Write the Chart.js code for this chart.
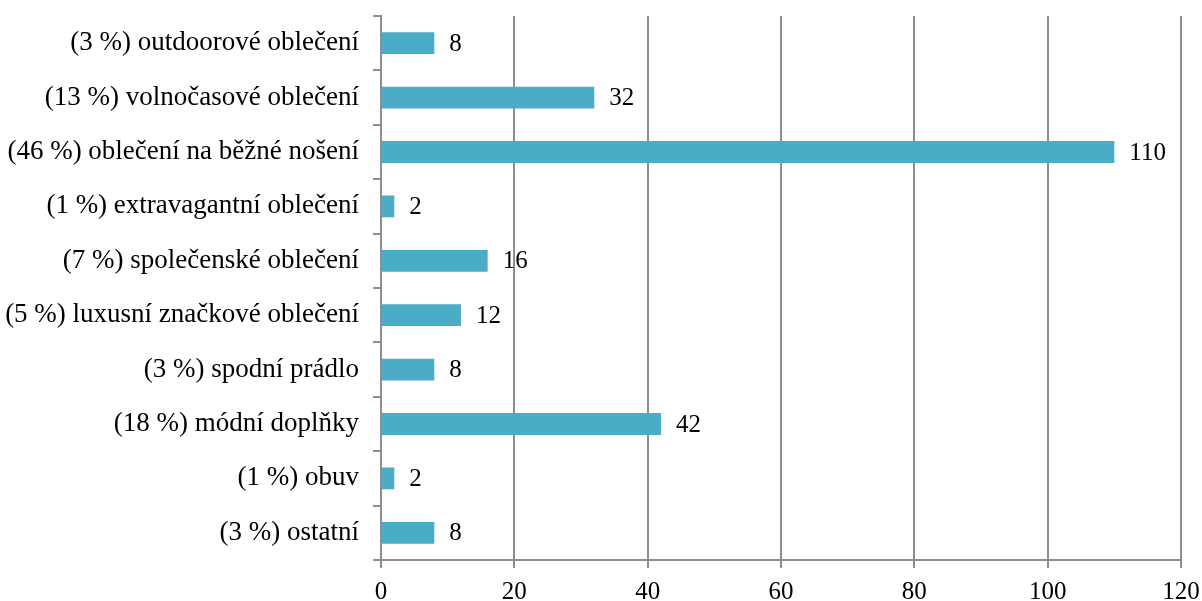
<!DOCTYPE html>
<html>
<head>
<meta charset="utf-8">
<script src="https://cdn.jsdelivr.net/npm/chart.js@4/dist/chart.umd.min.js"></script>
<style>
  html, body { margin: 0; padding: 0; background: #fff; }
  #wrap { width: 1202px; height: 601px; position: relative; }
</style>
</head>
<body>
<div id="wrap"><canvas id="clothes-chart"></canvas></div>
<script>
const categories = [
  "outdoorové oblečení",
  "volnočasové oblečení",
  "oblečení na běžné nošení",
  "extravagantní oblečení",
  "společenské oblečení",
  "luxusní značkové oblečení",
  "spodní prádlo",
  "módní doplňky",
  "obuv",
  "ostatní",
];
const shares = [3, 13, 46, 1, 7, 5, 3, 18, 1, 3];
const counts = [8, 32, 110, 2, 16, 12, 8, 42, 2, 8];
const xTicks = [0, 20, 40, 60, 80, 100, 120];

const FONT = "'Liberation Serif', 'Times New Roman', serif";
const AXIS_GRAY = "#8e8e8e";

// value text to the right of each bar
const barValueLabels = {
  id: "barValueLabels",
  afterDatasetsDraw(chart) {
    const ctx = chart.ctx;
    const meta = chart.getDatasetMeta(0);
    ctx.save();
    ctx.font = `25px ${FONT}`;
    ctx.fillStyle = "#000";
    ctx.textAlign = "left";
    ctx.textBaseline = "middle";
    meta.data.forEach((bar, i) => {
      ctx.fillText(String(counts[i]), bar.x + 15, bar.y + 1);
    });
    ctx.restore();
  },
};

new Chart(document.getElementById("clothes-chart"), {
  type: "bar",
  data: {
    labels: categories.map((name, i) => `(${shares[i]} %) ${name}`),
    datasets: [
      {
        data: counts,
        backgroundColor: "#4bacc6",
        borderWidth: 0,
        barPercentage: 0.4,
        categoryPercentage: 1,
      },
    ],
  },
  options: {
    indexAxis: "y",
    responsive: true,
    maintainAspectRatio: false,
    animation: false,
    layout: { padding: { top: 16, right: 21, left: 0, bottom: 0 } },
    plugins: {
      legend: { display: false },
      tooltip: { enabled: false },
    },
    scales: {
      x: {
        min: 0,
        max: 120,
        afterBuildTicks: (scale) => {
          scale.ticks = xTicks.map((v) => ({ value: v }));
        },
        afterFit: (scale) => {
          scale.height = 41;
          scale.paddingLeft = 0;
          scale.paddingRight = 0;
        },
        grid: {
          color: AXIS_GRAY,
          lineWidth: 2,
          tickLength: 8,
        },
        border: { color: AXIS_GRAY, width: 2 },
        ticks: {
          color: "#000",
          padding: 9,
          font: { family: FONT, size: 25 },
          maxRotation: 0,
        },
      },
      y: {
        afterFit: (scale) => {
          scale.width = 381;
          scale.paddingTop = 0;
          scale.paddingBottom = 0;
        },
        grid: {
          offset: true,
          drawOnChartArea: false,
          color: AXIS_GRAY,
          lineWidth: 2,
          tickLength: 8,
        },
        border: { color: AXIS_GRAY, width: 2 },
        ticks: {
          color: "#000",
          padding: 14,
          font: { family: FONT, size: 27 },
        },
      },
    },
  },
  plugins: [barValueLabels],
});
</script>
</body>
</html>
